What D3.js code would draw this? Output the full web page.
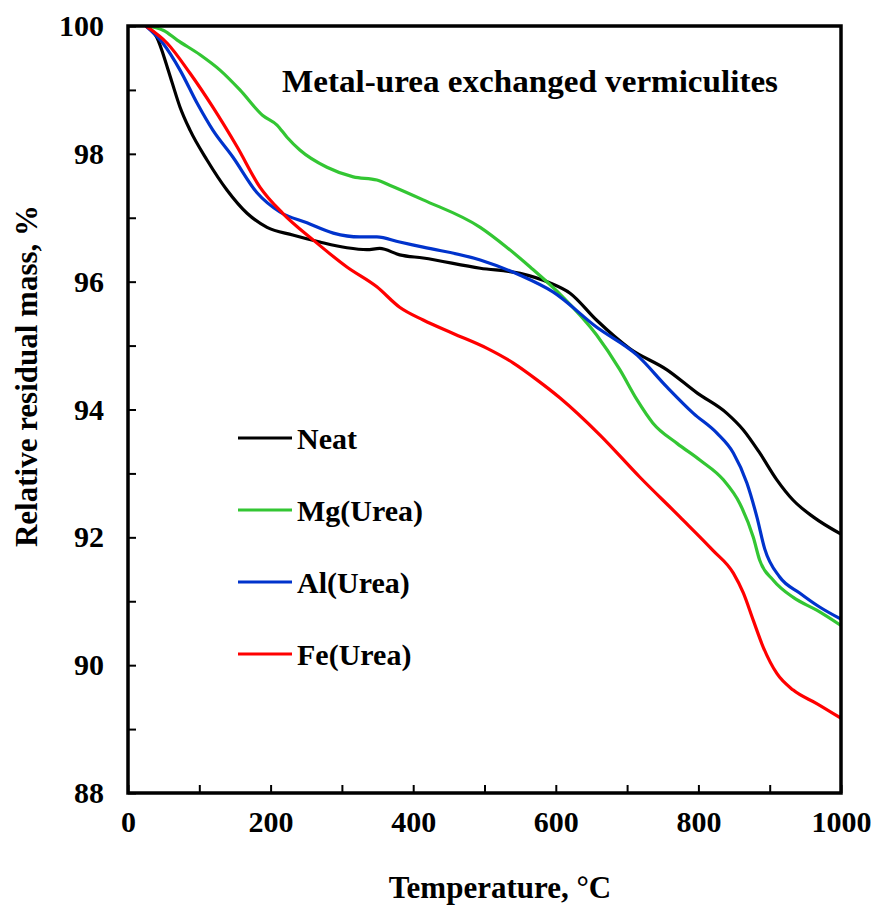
<!DOCTYPE html>
<html>
<head>
<meta charset="utf-8">
<script src="https://cdn.jsdelivr.net/npm/d3@7"></script>
<style>
  body { margin: 0; background: #fff; }
  svg { display: block; }
  text { font-family: "Liberation Serif", "Times New Roman", serif; font-weight: bold; fill: #000; }
</style>
</head>
<body>
<svg id="chart" width="876" height="907"></svg>
<script>
// ---- data ----
const seriesNames = ["Neat", "Mg(Urea)", "Al(Urea)", "Fe(Urea)"];
const seriesColors = ["#000000", "#33c633", "#0033cc", "#ff0000"];

const neatT = [25, 40, 55, 62, 73, 87, 111, 139, 167, 195, 231, 269, 307, 335, 353, 381, 414, 494, 550, 592, 620, 657, 704, 756, 798, 840, 863, 886, 910, 933, 961, 1000];
const neatV = [100, 99.83, 99.36, 99.11, 98.73, 98.37, 97.90, 97.43, 97.07, 96.85, 96.73, 96.62, 96.53, 96.50, 96.52, 96.42, 96.37, 96.21, 96.13, 95.98, 95.82, 95.40, 94.95, 94.62, 94.26, 93.94, 93.68, 93.32, 92.90, 92.58, 92.32, 92.05];

const mgT = [25, 50, 69, 101, 129, 157, 189, 209, 223, 241, 279, 316, 349, 367, 414, 494, 531, 564, 610, 657, 690, 714, 736, 770, 802, 835, 858, 877, 886, 905, 933, 966, 1000];
const mgV = [100, 99.93, 99.78, 99.55, 99.31, 99.0, 98.6, 98.45, 98.26, 98.06, 97.79, 97.64, 97.59, 97.51, 97.28, 96.85, 96.54, 96.23, 95.76, 95.17, 94.62, 94.15, 93.79, 93.47, 93.21, 92.90, 92.53, 92.0, 91.64, 91.33, 91.06, 90.86, 90.62];

const alT = [25, 49, 73, 97, 119, 147, 181, 213, 251, 288, 325, 349, 381, 414, 494, 550, 596, 657, 714, 756, 793, 826, 849, 868, 882, 893, 914, 942, 970, 1000];
const alV = [100, 99.73, 99.31, 98.79, 98.37, 97.95, 97.39, 97.09, 96.92, 96.76, 96.70, 96.70, 96.62, 96.54, 96.34, 96.10, 95.84, 95.29, 94.85, 94.35, 93.94, 93.63, 93.32, 92.85, 92.32, 91.82, 91.38, 91.13, 90.91, 90.72];

const feT = [25, 55, 87, 119, 153, 185, 217, 260, 307, 349, 381, 414, 456, 503, 540, 574, 606, 662, 718, 774, 820, 849, 863, 877, 891, 910, 933, 966, 1000];
const feV = [100, 99.73, 99.26, 98.73, 98.11, 97.48, 97.07, 96.65, 96.23, 95.92, 95.60, 95.40, 95.19, 94.96, 94.73, 94.46, 94.18, 93.60, 92.94, 92.32, 91.80, 91.44, 91.13, 90.70, 90.28, 89.87, 89.61, 89.40, 89.17];

const xTickLabels = [0, 200, 400, 600, 800, 1000];
const xTicks = [0, 100, 200, 300, 400, 500, 600, 700, 800, 900, 1000];
const yTickLabels = [88, 90, 92, 94, 96, 98, 100];
const yTicks = [88, 89, 90, 91, 92, 93, 94, 95, 96, 97, 98, 99, 100];

const titleText = "Metal-urea exchanged vermiculites";
const xTitle = "Temperature, \u00B0C";
const yTitle = "Relative residual mass, %";

// ---- chart ----
const svg = d3.select("#chart");
const mLeft = 128, mRight = 841, mTop = 26, mBottom = 793;
const x = d3.scaleLinear().domain([0, 1000]).range([mLeft, mRight]);
const y = d3.scaleLinear().domain([88, 100]).range([mBottom, mTop]);

const series = [
  {T: neatT, V: neatV},
  {T: mgT, V: mgV},
  {T: alT, V: alV},
  {T: feT, V: feV}
].map((s, i) => ({name: seriesNames[i], color: seriesColors[i], pts: s.T.map((t, j) => [t, s.V[j]])}));

const line = d3.line().x(d => x(d[0])).y(d => y(d[1])).curve(d3.curveMonotoneX);

svg.append("clipPath").attr("id", "clip").append("rect")
  .attr("x", mLeft).attr("y", mTop).attr("width", mRight - mLeft).attr("height", mBottom - mTop);

svg.append("g").attr("clip-path", "url(#clip)")
  .selectAll("path").data(series).join("path")
  .attr("d", d => line(d.pts))
  .attr("fill", "none")
  .attr("stroke", d => d.color)
  .attr("stroke-width", 3.2)
  .attr("stroke-linejoin", "round");

// axes
const yAxis = d3.axisLeft(y).tickValues(yTicks).tickSize(-8).tickPadding(24)
  .tickFormat(d => yTickLabels.includes(d) ? String(d) : "");
const gy = svg.append("g").attr("transform", `translate(${mLeft},0)`).call(yAxis);
gy.select(".domain").remove();
gy.selectAll("line").attr("stroke", "#000").attr("stroke-width", 2);
gy.selectAll("text").attr("font-size", 30).attr("font-family", "Liberation Serif").attr("font-weight", "bold");

const xAxis = d3.axisBottom(x).tickValues(xTicks).tickSize(-8).tickPadding(18)
  .tickFormat(d => xTickLabels.includes(d) ? String(d) : "");
const gx = svg.append("g").attr("transform", `translate(0,${mBottom})`).call(xAxis);
gx.select(".domain").remove();
gx.selectAll("line").attr("stroke", "#000").attr("stroke-width", 2);
gx.selectAll("text").attr("font-size", 30).attr("font-family", "Liberation Serif").attr("font-weight", "bold");

// frame
svg.append("rect")
  .attr("x", mLeft).attr("y", mTop).attr("width", mRight - mLeft).attr("height", mBottom - mTop)
  .attr("fill", "none").attr("stroke", "#000").attr("stroke-width", 3.5);

// title
svg.append("text").attr("x", 282).attr("y", 92)
  .attr("font-size", 31)
  .attr("font-family", "'DejaVu Serif', serif")
  .attr("textLength", 496).attr("lengthAdjust", "spacingAndGlyphs")
  .text(titleText);

// axis titles
svg.append("text").attr("x", 500).attr("y", 898).attr("text-anchor", "middle")
  .attr("font-size", 31).text(xTitle);
svg.append("text").attr("transform", "translate(37,376) rotate(-90)").attr("text-anchor", "middle")
  .attr("font-size", 31).text(yTitle);

// legend
const legY = [438, 510, 582, 654];
const leg = svg.append("g").selectAll("g").data(series).join("g")
  .attr("transform", (d, i) => `translate(238,${legY[i]})`);
leg.append("line").attr("x1", 0).attr("x2", 54).attr("y1", 0).attr("y2", 0)
  .attr("stroke", d => d.color).attr("stroke-width", 3.2);
leg.append("text").attr("x", 59).attr("y", 11).attr("font-size", 30).text(d => d.name);
</script>
</body>
</html>
